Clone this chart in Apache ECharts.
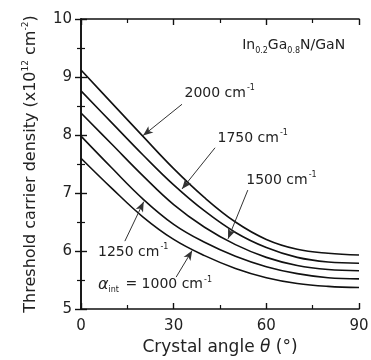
<!DOCTYPE html>
<html>
<head>
<meta charset="utf-8">
<script src="https://cdn.jsdelivr.net/npm/echarts@6/dist/echarts.min.js"></script>
<style>
    html, body { margin: 0; padding: 0; background: #fff; }
    #chart { width: 371px; height: 360px; }
</style>
</head>
<body>
<div id="chart"></div>
<script>
    // crystal angle (deg)
    const angles = [0, 10, 20, 30, 40, 50, 60, 70, 80, 90];
    // threshold carrier density (x10^12 cm^-2) for each alpha_int
    const n2000 = [9.12, 8.55, 7.98, 7.42, 6.92, 6.50, 6.20, 6.03, 5.96, 5.93];
    const n1750 = [8.76, 8.21, 7.66, 7.14, 6.69, 6.32, 6.06, 5.89, 5.81, 5.79];
    const n1500 = [8.38, 7.84, 7.30, 6.80, 6.41, 6.11, 5.89, 5.75, 5.68, 5.66];
    const n1250 = [7.98, 7.43, 6.90, 6.46, 6.15, 5.91, 5.73, 5.61, 5.54, 5.52];
    const n1000 = [7.60, 7.08, 6.59, 6.20, 5.92, 5.70, 5.54, 5.44, 5.39, 5.37];
    const xTicks = [0, 30, 60, 90];
    const yTicks = [5, 6, 7, 8, 9, 10];

    // arrow annotations: [angle, density] of tail and head, and label anchor
    const arrowTail = [[32.7, 8.53], [43.4, 7.78], [54.0, 7.05], [14.2, 6.17], [30.8, 5.55]];
    const arrowHead = [[20.1, 7.99], [32.7, 7.07], [47.6, 6.21], [20.3, 6.85], [36.0, 6.01]];
    const labelAt = [[33.5, 8.72], [44.2, 7.95], [53.5, 7.22], [5.5, 5.98], [5.5, 5.42]];
    const labelText = [
        '2000 cm{sup|-1}',
        '1750 cm{sup|-1}',
        '1500 cm{sup|-1}',
        '1250 cm{sup|-1}',
        '{it|α}{sub|int} = 1000 cm{sup|-1}'
    ];

    const chart = echarts.init(document.getElementById('chart'));
    const font = 'DejaVu Sans';

    const curves = [n2000, n1750, n1500, n1250, n1000];

    const series = curves.map((vals, i) => ({
        type: 'line',
        data: angles.map((a, j) => [a, vals[j]]),
        smooth: 0.4,
        symbol: 'none',
        lineStyle: { color: '#111', width: 1.6 },
        animation: false,
        markLine: {
            silent: true,
            animation: false,
            symbol: ['none', 'arrow'],
            symbolSize: [6, 10],
            lineStyle: { color: '#333', width: 1, type: 'solid' },
            itemStyle: { color: '#111' },
            label: { show: false },
            data: [[{ coord: arrowTail[i] }, { coord: arrowHead[i] }]]
        }
    }));

    const tickCommon = {
        min: 0, max: 90, interval: 30,
        axisLine: { show: true, lineStyle: { color: '#111', width: 1.6 } },
        axisTick: { show: true, inside: true, length: 6, lineStyle: { color: '#111', width: 1.4 } },
        minorTick: { show: true, splitNumber: 2, length: 4, lineStyle: { color: '#111', width: 1.2 } },
        splitLine: { show: false }
    };

    chart.setOption({
        backgroundColor: '#fff',
        grid: { left: 81, right: 12, top: 19, bottom: 51, outerBoundsMode: 'none' },
        xAxis: [
            Object.assign({}, tickCommon, {
                type: 'value',
                position: 'bottom',
                name: 'Crystal angle {it|θ} (°)',
                nameLocation: 'middle',
                nameGap: 27,
                nameTextStyle: {
                    fontFamily: font, fontSize: 17, color: '#222',
                    rich: { it: { fontFamily: font, fontSize: 17, fontStyle: 'italic', color: '#222' } }
                },
                axisLabel: {
                    margin: 10, fontFamily: font, fontSize: 15, color: '#222',
                    customValues: xTicks
                }
            }),
            Object.assign({}, tickCommon, {
                type: 'value',
                position: 'top',
                axisLabel: { show: false }
            })
        ],
        yAxis: [
            Object.assign({}, tickCommon, {
                type: 'value',
                min: 5, max: 10, interval: 1,
                position: 'left',
                name: 'Threshold carrier density (x10{sup|12} cm{sup|-2})',
                nameLocation: 'middle',
                nameGap: 40,
                nameTextStyle: {
                    fontFamily: font, fontSize: 16, color: '#222', lineHeight: 20,
                    rich: { sup: { fontFamily: font, fontSize: 9, color: '#222', verticalAlign: 'top', lineHeight: 20, padding: [0, 0, 8, 0] } }
                },
                axisLabel: {
                    margin: 9, fontFamily: font, fontSize: 15, color: '#222',
                    customValues: yTicks
                }
            }),
            Object.assign({}, tickCommon, {
                type: 'value',
                min: 5, max: 10, interval: 1,
                position: 'right',
                axisLabel: { show: false }
            })
        ],
        series: series
    });

    // place curve labels at their data positions
    const graphics = labelAt.map((p, i) => {
        const px = chart.convertToPixel({ seriesIndex: 0 }, p);
        return {
            type: 'text',
            x: px[0], y: px[1],
            silent: true,
            style: {
                text: labelText[i],
                font: '14px "' + font + '"',
                fill: '#222',
                verticalAlign: 'middle',
                rich: {
                    sup: { font: '8px "' + font + '"', fill: '#222', padding: [0, 0, 10, 1] },
                    sub: { font: '8px "' + font + '"', fill: '#222', padding: [10, 2, 0, 0] },
                    it: { font: 'italic 16px "' + font + '"', fill: '#222' }
                }
            }
        };
    });
    const topRight = chart.convertToPixel({ seriesIndex: 0 }, [85.5, 9.55]);
    graphics.push({
        type: 'text',
        x: topRight[0], y: topRight[1],
        silent: true,
        style: {
            text: 'In{sub|0.2}Ga{sub|0.8}N/GaN',
            font: '14px "' + font + '"',
            fill: '#222',
            align: 'right',
            verticalAlign: 'middle',
            rich: {
                sub: { font: '8px "' + font + '"', fill: '#222', padding: [12, 0, 0, 0] }
            }
        }
    });
    chart.setOption({ graphic: graphics });
</script>
</body>
</html>
